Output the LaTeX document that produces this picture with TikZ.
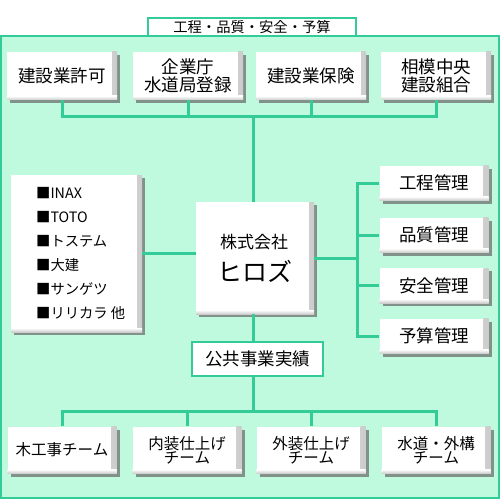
\documentclass[tikz,border=0pt]{standalone}
\usepackage{fontspec}
\setmainfont{Noto Sans CJK JP}
\usetikzlibrary{shadows}
\definecolor{mint}{RGB}{192,250,222}
\definecolor{lgreen}{RGB}{51,204,153}
\begin{document}
\begin{tikzpicture}[x=1pt,y=-1pt,
  box/.style={fill=white, inner sep=0pt, align=center,
    drop shadow={shadow xshift=3pt, shadow yshift=-3pt, fill=black!60, opacity=0.7},
    path picture={
      \shade[left color=white, right color=black!20]
        ([xshift=-5pt]path picture bounding box.north east) rectangle (path picture bounding box.south east);
      \shade[top color=white, bottom color=black!20]
        ([yshift=4pt]path picture bounding box.south west) rectangle (path picture bounding box.south east);
    }},
  topbox/.style={box, minimum width=110, minimum height=48, font=\fontsize{17.5}{19}\selectfont},
  rbox/.style={box, minimum width=109, minimum height=35, font=\fontsize{17.5}{19}\selectfont},
  botbox/.style={box, minimum width=109, minimum height=47, font=\fontsize{15.5}{17}\selectfont},
  tag/.style={draw=lgreen, line width=1.5pt, fill=white, inner sep=0pt},
  conn/.style={draw=lgreen, line width=3pt},
  plain/.style={inner sep=0pt}
]
\useasboundingbox (0,0) rectangle (500,500);
% outer frame
\draw[fill=mint, draw=lgreen, line width=1.5pt] (1,36) rectangle (499,498);
% title tab
\node[tag, minimum width=208, minimum height=18, font=\fontsize{14.3}{16}\selectfont] (title) at (252,27) {工程・品質・安全・予算};

% top row
\node[topbox] (t1) at (62,76) {建設業許可};
\node[topbox] (t2) at (188,76) {企業庁\\[-1pt]水道局登録};
\node[topbox] (t3) at (311,76) {建設業保険};
\node[topbox] (t4) at (436,76) {相模中央\\[-1pt]建設組合};

% center
\node[box, minimum width=118, minimum height=112] (ctr) at (255,258) {};
\node[plain, font=\fontsize{17}{19}\selectfont] (ctr1) at (254,242) {株式会社};
\node[plain, font=\fontsize{25}{28}\selectfont] (ctr2) at (255,271) {ヒロズ};

% left list
\node[box, minimum width=131, minimum height=157] (lst) at (76.5,253.5) {};
\node[plain, anchor=west, align=left, font=\fontsize{14.3}{24}\selectfont] (lsttext) at (36,253) {■INAX\\■TOTO\\■トステム\\■大建\\■サンゲツ\\■リリカラ 他};

% right boxes
\node[rbox] (r1) at (434,183) {工程管理};
\node[rbox] (r2) at (434,235) {品質管理};
\node[rbox] (r3) at (434,285.5) {安全管理};
\node[rbox] (r4) at (434,336) {予算管理};

% public works
\node[tag, minimum width=131, minimum height=34, font=\fontsize{17.5}{19}\selectfont] (pub) at (257.5,359) {公共事業実績};

% bottom row
\node[botbox] (b1) at (62,450) {木工事チーム};
\node[botbox] (b2) at (187,450) {内装仕上げ\\[-3pt]チーム};
\node[botbox] (b3) at (311,450) {外装仕上げ\\[-3pt]チーム};
\node[botbox] (b4) at (436,450) {水道・外構\\[-3pt]チーム};

% bus coordinates
\coordinate (topbus) at (253,117);
\coordinate (rbus) at (357,258);
\coordinate (botbus) at (253,411);

% connectors: top
\draw[conn] (t1.south) -- (t1.south |- topbus) -- (t4.south |- topbus) -- (t4.south);
\draw[conn] (t2.south) -- (t2.south |- topbus);
\draw[conn] (t3.south) -- (t3.south |- topbus);
\draw[conn] (topbus) -- (topbus |- ctr.north);
% left
\draw[conn] (lst.east) -- (ctr.west |- lst.east);
% right
\draw[conn] (ctr.east |- rbus) -- (rbus);
\draw[conn] (r1.west) -- (r1.west -| rbus) -- (r4.west -| rbus) -- (r4.west);
\draw[conn] (r2.west) -- (r2.west -| rbus);
\draw[conn] (r3.west) -- (r3.west -| rbus);
% down
\draw[conn] (topbus |- ctr.south) -- (topbus |- pub.north);
\draw[conn] (topbus |- pub.south) -- (botbus);
\draw[conn] (b1.north) -- (b1.north |- botbus) -- (b4.north |- botbus) -- (b4.north);
\draw[conn] (b2.north) -- (b2.north |- botbus);
\draw[conn] (b3.north) -- (b3.north |- botbus);
\end{tikzpicture}
\end{document}
